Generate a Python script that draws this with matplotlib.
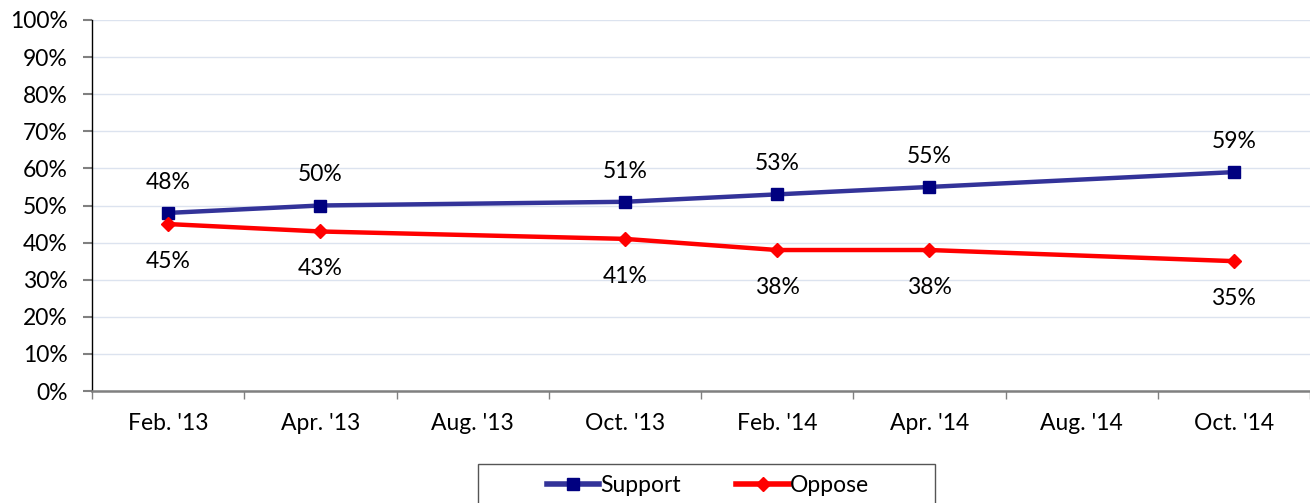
import matplotlib.pyplot as plt
import numpy as np
from matplotlib.patches import Rectangle

plt.rcParams['font.family'] = ['Lato', 'DejaVu Sans']

categories = ["Feb. '13", "Apr. '13", "Aug. '13", "Oct. '13", "Feb. '14", "Apr. '14", "Aug. '14", "Oct. '14"]
support = [48, 50, None, 51, 53, 55, None, 59]
oppose = [45, 43, None, 41, 38, 38, None, 35]

x = np.arange(len(categories))
sup_x = [i for i, v in zip(x, support) if v is not None]
sup_y = [v for v in support if v is not None]
opp_x = [i for i, v in zip(x, oppose) if v is not None]
opp_y = [v for v in oppose if v is not None]

fs = 16.5

fig = plt.figure(figsize=(13.1, 5.03), dpi=100)
ax = fig.add_axes([92/1310, 1-391/503, 1-92/1310, (391-20)/503])

ax.grid(axis='y', color='#dce3ef', linewidth=1)
ax.set_axisbelow(True)

p1, = ax.plot(sup_x, sup_y, color='#333399', linewidth=3.2, marker='s', markersize=8,
              markerfacecolor='#000080', markeredgecolor='#000080', label='Support')
p2, = ax.plot(opp_x, opp_y, color='#ff0000', linewidth=3.2, marker='D', markersize=7.5,
              markerfacecolor='#ff0000', markeredgecolor='#ff0000', label='Oppose')

for xi, v in zip(sup_x, sup_y):
    ax.annotate('{}%'.format(v), xy=(xi, v), xytext=(0, 22), textcoords='offset points',
                ha='center', va='center', fontsize=fs)
for xi, v in zip(opp_x, opp_y):
    ax.annotate('{}%'.format(v), xy=(xi, v), xytext=(0, -27), textcoords='offset points',
                ha='center', va='center', fontsize=fs)

ax.set_xlim(-0.5, len(categories) - 0.5)
ax.set_ylim(0, 100)
ax.set_yticks(np.arange(0, 101, 10))
ax.set_yticklabels(['{}%'.format(v) for v in range(0, 101, 10)], fontsize=fs)
ax.tick_params(axis='y', length=6.5, width=1.5, color='#808080', pad=11)

ax.set_xticks(np.arange(-0.5, len(categories), 1))
ax.set_xticklabels([])
ax.tick_params(axis='x', which='major', length=6, width=1, color='#808080')
ax.set_xticks(x, minor=True)
ax.set_xticklabels(categories, minor=True, fontsize=fs)
ax.tick_params(axis='x', which='minor', length=0, pad=16)

ax.spines['top'].set_visible(False)
ax.spines['right'].set_visible(False)
ax.spines['left'].set_color('black')
ax.spines['left'].set_linewidth(1)
ax.spines['bottom'].set_color('#808080')
ax.spines['bottom'].set_linewidth(1.8)

fig.patches.append(Rectangle((478/1310, -0.05), (935-478)/1310, 1-464/503+0.05,
                             transform=fig.transFigure, fill=False,
                             edgecolor='#555555', linewidth=1))
leg = fig.legend(handles=[p1, p2], loc='center', bbox_to_anchor=(708/1310, 1-486/503),
                 ncol=2, frameon=False, fontsize=fs, handlelength=2.3,
                 handletextpad=0.05, columnspacing=2.4)
for h in leg.legend_handles:
    h.set_linewidth(4)

fig.savefig('out.png', dpi=100)
